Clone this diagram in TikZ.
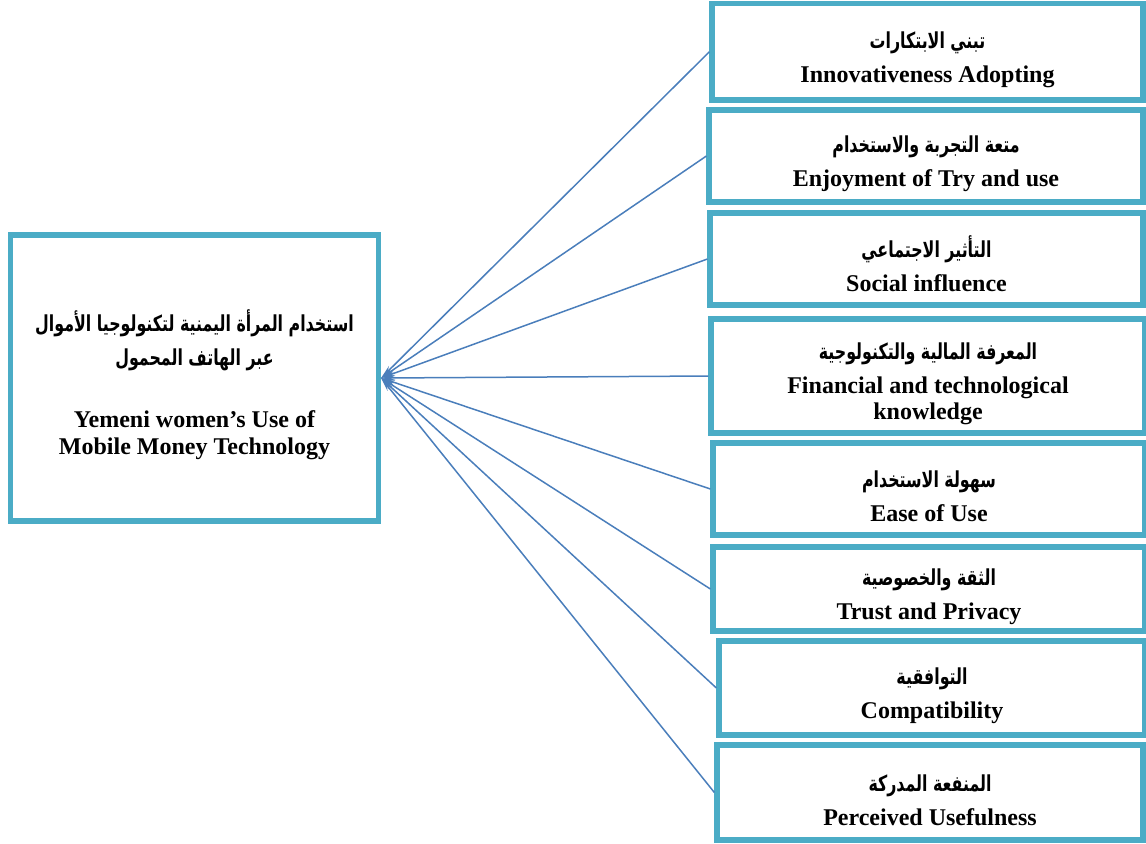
\documentclass[tikz,border=0pt]{standalone}
\usepackage{fontspec}
\setmainfont{Liberation Serif}
\newfontfamily\arabicfont[Script=Arabic,FakeStretch=0.72]{DejaVu Sans}
\TeXXeTstate=1
\usetikzlibrary{arrows.meta}
\definecolor{boxblue}{RGB}{75,172,198}
\definecolor{linkblue}{RGB}{74,126,187}
\newcommand{\arabtxt}[1]{{\arabicfont\fontsize{11}{17}\selectfont\beginR #1\endR}}

\begin{document}
\begin{tikzpicture}[x=0.5pt,y=-0.5pt,
  factor/.style={draw=boxblue,line width=2.6pt,fill=white,rectangle,inner sep=0pt,
    align=center,font=\fontsize{12}{17}\selectfont\bfseries},
  link/.style={draw=linkblue,line width=0.75pt,{Stealth[length=7pt,width=3pt]}-}]
\useasboundingbox (0,0) rectangle (1146,843);
% ================= dependent variable =================
\node[factor,minimum width=184pt,minimum height=143pt] (use) at (194.5,378)
  {\rule{0pt}{18pt}\arabtxt{استخدام المرأة اليمنية لتكنولوجيا الأموال}\\
   \arabtxt{عبر الهاتف المحمول}\\[14pt]
   Yemeni women’s Use of\\[-3.5pt]
   Mobile Money Technology};
% ================= factors (left x, right x, top y, bottom y) =================
\foreach \n/\lx/\rx/\ty/\by/\txt in {
  1/712/1143/3.5/100/{\arabtxt{تبني الابتكارات}\\Innovativeness Adopting},
  2/709/1143/110/202/{\arabtxt{متعة التجربة والاستخدام}\\Enjoyment of Try and use},
  3/710/1143/213/305/{\arabtxt{التأثير الاجتماعي}\\Social influence},
  4/711/1145/319/433/{\arabtxt{المعرفة المالية والتكنولوجية}\\Financial and technological\\[-4pt]knowledge},
  5/713/1145/443/535/{\arabtxt{سهولة الاستخدام}\\Ease of Use},
  6/713/1145/547/631/{\arabtxt{الثقة والخصوصية}\\Trust and Privacy},
  7/719/1145/641/735/{\arabtxt{التوافقية}\\Compatibility},
  8/717/1143/745/840/{\arabtxt{المنفعة المدركة}\\Perceived Usefulness}} {
  \pgfmathsetmacro{\w}{(\rx-\lx)/2}
  \pgfmathsetmacro{\h}{(\by-\ty)/2}
  \node[factor,minimum width=\w pt,minimum height=\h pt] (f\n) at ({(\lx+\rx)/2},{(\ty+\by)/2}) {\rule{0pt}{16pt}\txt};
}
% links into the dependent variable
\foreach \i in {1,...,8}
  \draw[link] (use.east) -- (f\i.west);
\end{tikzpicture}
\end{document}
